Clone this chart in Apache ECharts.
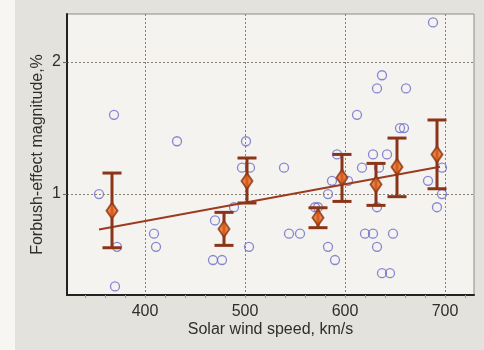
<!DOCTYPE html>
<html>
<head>
<meta charset="utf-8">
<script src="https://cdn.jsdelivr.net/npm/echarts@6/dist/echarts.min.js"></script>
<style>html,body{margin:0;padding:0;background:#e4e2dc;}#c{width:484px;height:350px;}</style>
</head>
<body>
<div id="c"></div>
<script>
// Individual events: solar wind speed (km/s) and Forbush-effect magnitude (%)
var eventSpeed = [354,369,372,370,409,411,432,470,468,477,489,501,497,505,504,539,544,555,570,573,583,583,590,592,587,603,612,617,620,628,628,632,637,634,632,632,637,645,642,648,655,659,661,683,688,697,697,692];
var eventMag   = [1.0,1.6,0.6,0.3,0.7,0.6,1.4,0.8,0.5,0.5,0.9,1.4,1.2,1.2,0.6,1.2,0.7,0.7,0.9,0.9,1.0,0.6,0.5,1.3,1.1,1.1,1.6,1.2,0.7,0.7,1.3,1.8,1.9,1.2,0.9,0.6,0.4,0.4,1.3,0.7,1.5,1.5,1.8,1.1,2.3,1.2,1.0,0.9];
// Binned means with error bars
var binSpeed = [367,479,502,573,597,631,652,692];
var binMean  = [0.874,0.735,1.098,0.821,1.124,1.073,1.205,1.30];
var binLow   = [0.593,0.611,0.932,0.745,0.944,0.914,0.98,1.04];
var binHigh  = [1.159,0.861,1.273,0.896,1.30,1.232,1.424,1.561];
// Linear fit
var trendX = [354,695];
var trendY = [0.732,1.207];
// Tick labels
var xTickLabels = [400,500,600,700];
var xMinorTicks = [340,360,380,400,420,440,460,480,500,520,540,560,580,600,620,640,660,680,700,720];
var yTickLabels = [1,2];

var chart = echarts.init(document.getElementById('c'), null, {renderer:'canvas'});
var font = 'Liberation Sans, Arial, sans-serif';
var txt = '#2e2e2e';
var brown = '#8b3518';

function zip(a,b){return a.map(function(v,i){return [v,b[i]];});}

chart.setOption({
  backgroundColor:'#e4e2dc',
  animation:false,
  graphic:[{type:'rect',shape:{x:0,y:0,width:15,height:350},style:{fill:'#f7f6f3'},z:-10}],
  grid:{left:67,right:10,top:14,bottom:55,show:true,backgroundColor:'#f4f3ef',borderColor:'#8c8c8c',borderWidth:1},
  xAxis:[{
    type:'value',min:322,max:729,
    axisLine:{show:true,onZero:false,lineStyle:{color:'#222',width:2}},
    axisTick:{show:true,customValues:xMinorTicks,length:3,lineStyle:{color:'#999',width:1}},
    axisLabel:{show:false},
    splitLine:{show:false}
  },{
    type:'value',min:322,max:729,position:'bottom',
    axisLine:{show:false},
    axisTick:{show:false,customValues:xTickLabels},
    axisLabel:{show:true,customValues:xTickLabels,color:txt,fontSize:16,fontFamily:font,margin:9},
    splitLine:{show:true,lineStyle:{color:'#8a8078',type:[2,2],width:1}},
    name:'Solar wind speed, km/s',nameLocation:'middle',nameGap:27,nameMoveOverlap:false,
    nameTextStyle:{color:txt,fontSize:16,fontFamily:font}
  }],
  yAxis:{
    type:'value',min:0.235,max:2.364,
    axisLine:{show:true,lineStyle:{color:'#222',width:2}},
    axisTick:{show:true,customValues:yTickLabels,length:4,lineStyle:{color:'#666',width:1}},
    axisLabel:{show:true,customValues:yTickLabels,color:txt,fontSize:16,fontFamily:font,margin:6},
    splitLine:{show:true,lineStyle:{color:'#8a8078',type:[2,2],width:1}},
    name:'Forbush-effect magnitude,%',nameLocation:'middle',nameGap:21,nameMoveOverlap:false,
    nameTextStyle:{color:txt,fontSize:16,fontFamily:font}
  },
  series:[
    {type:'scatter',data:zip(eventSpeed,eventMag),symbol:'circle',symbolSize:9,
     itemStyle:{color:'rgba(0,0,0,0)',borderColor:'#6a6acb',borderWidth:1.3},z:2},
    {type:'line',data:zip(trendX,trendY),showSymbol:false,symbol:'none',
     lineStyle:{color:'#9b3b1f',width:2},z:3},
    {type:'custom',z:4,
     data:binSpeed.map(function(v,i){return [v,binLow[i],binHigh[i]];}),
     renderItem:function(params,api){
       var lo=api.coord([api.value(0),api.value(1)]);
       var hi=api.coord([api.value(0),api.value(2)]);
       var w=9.5;
       var st={stroke:brown,lineWidth:3};
       return {type:'group',children:[
         {type:'line',shape:{x1:lo[0],y1:lo[1],x2:hi[0],y2:hi[1]},style:st},
         {type:'line',shape:{x1:lo[0]-w,y1:lo[1],x2:lo[0]+w,y2:lo[1]},style:st},
         {type:'line',shape:{x1:hi[0]-w,y1:hi[1],x2:hi[0]+w,y2:hi[1]},style:st}
       ]};
     }},
    {type:'scatter',data:zip(binSpeed,binMean),symbol:'diamond',symbolSize:[11,16],z:5,
     itemStyle:{color:'#e8691c',borderColor:brown,borderWidth:2}}
  ]
});
</script>
</body>
</html>
